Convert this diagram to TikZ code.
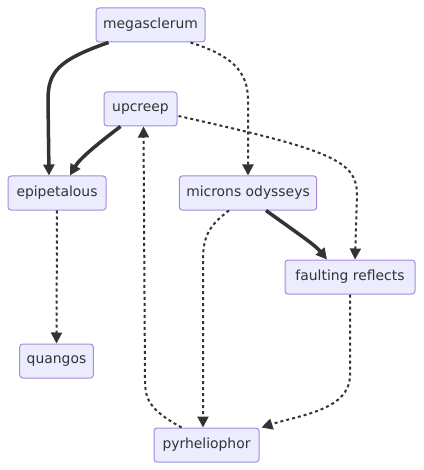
\documentclass[tikz,border=0pt]{standalone}
\usepackage{fontspec}
\setmainfont{DejaVu Sans}
\usetikzlibrary{arrows.meta, positioning}
\definecolor{boxfill}{HTML}{ECECFF}
\definecolor{boxline}{HTML}{A58BDF}
\definecolor{ink}{HTML}{333333}
\tikzset{
>={Triangle[length=11pt,width=11pt]}, % filled arrow heads
x=1pt, y=-1pt, % one unit is one pixel, y grows downward
box/.style={draw=boxline, fill=boxfill, line width=1pt, rounded corners=3pt,
  minimum height=34pt, inner xsep=7pt, text=ink,
  font=\fontsize{13.9}{16}\selectfont}, % sets the properties for each box
boldline/.style={->, draw=ink, line width=3.5pt}, % the heavy links
dotline/.style={->, draw=ink, line width=2pt, dash pattern=on 3pt off 3pt}, % the dotted links
}
\begin{document}
\begin{tikzpicture}
            \useasboundingbox (0,0) rectangle (423,470);

            \node[box, minimum width=109pt] (mega) at (150.5,25) {megasclerum};
            \node[box, minimum width=73pt] (up) at (140.5,109) {upcreep};
            \node[box, minimum width=98pt] (epi) at (57,193) {epipetalous};
            \node[box, minimum width=136pt] (mic) at (248,193) {microns odysseys};
            \node[box, minimum width=130pt] (fault) at (350,277) {faulting reflects};
            \node[box, minimum width=73pt] (quan) at (56.5,361) {quangos};
            \node[box, minimum width=105pt] (pyr) at (206.5,445) {pyrheliophor};

            \draw[boldline] ([xshift=-42pt]mega.south) .. controls (58,60) and (48,72) .. (48,100) -- ([xshift=-8pt]epi.north);
            \draw[dotline] ([xshift=40pt]mega.south) .. controls (230,55) and (248,70) .. (248,100) -- (mic.north);
            \draw[boldline] ([xshift=-20pt]up.south) .. controls (100,142) and (80,158) .. ([xshift=13pt]epi.north);
            \draw[dotline] ([xshift=1pt]up.east) ++(0,7) .. controls (330,150) and (357,160) .. (357,195) -- ([xshift=5pt]fault.north);
            \draw[boldline] ([xshift=18pt]mic.south) .. controls (300,235) and (315,245) .. ([xshift=-23pt]fault.north);
            \draw[dotline] ([xshift=-19pt]mic.south) .. controls (210,225) and (203,235) .. (203,260) -- ([xshift=-3.5pt]pyr.north);
            \draw[dotline] (epi.south) -- (quan.north);
            \draw[dotline] (fault.south) -- (350,375) .. controls (350,410) and (300,415) .. ([xshift=2pt]pyr.north east);
            \draw[dotline] ([xshift=-25pt]pyr.north) .. controls (150,410) and (145,400) .. (145,380) -- ([xshift=3pt]up.south);
        \end{tikzpicture}
\end{document}
